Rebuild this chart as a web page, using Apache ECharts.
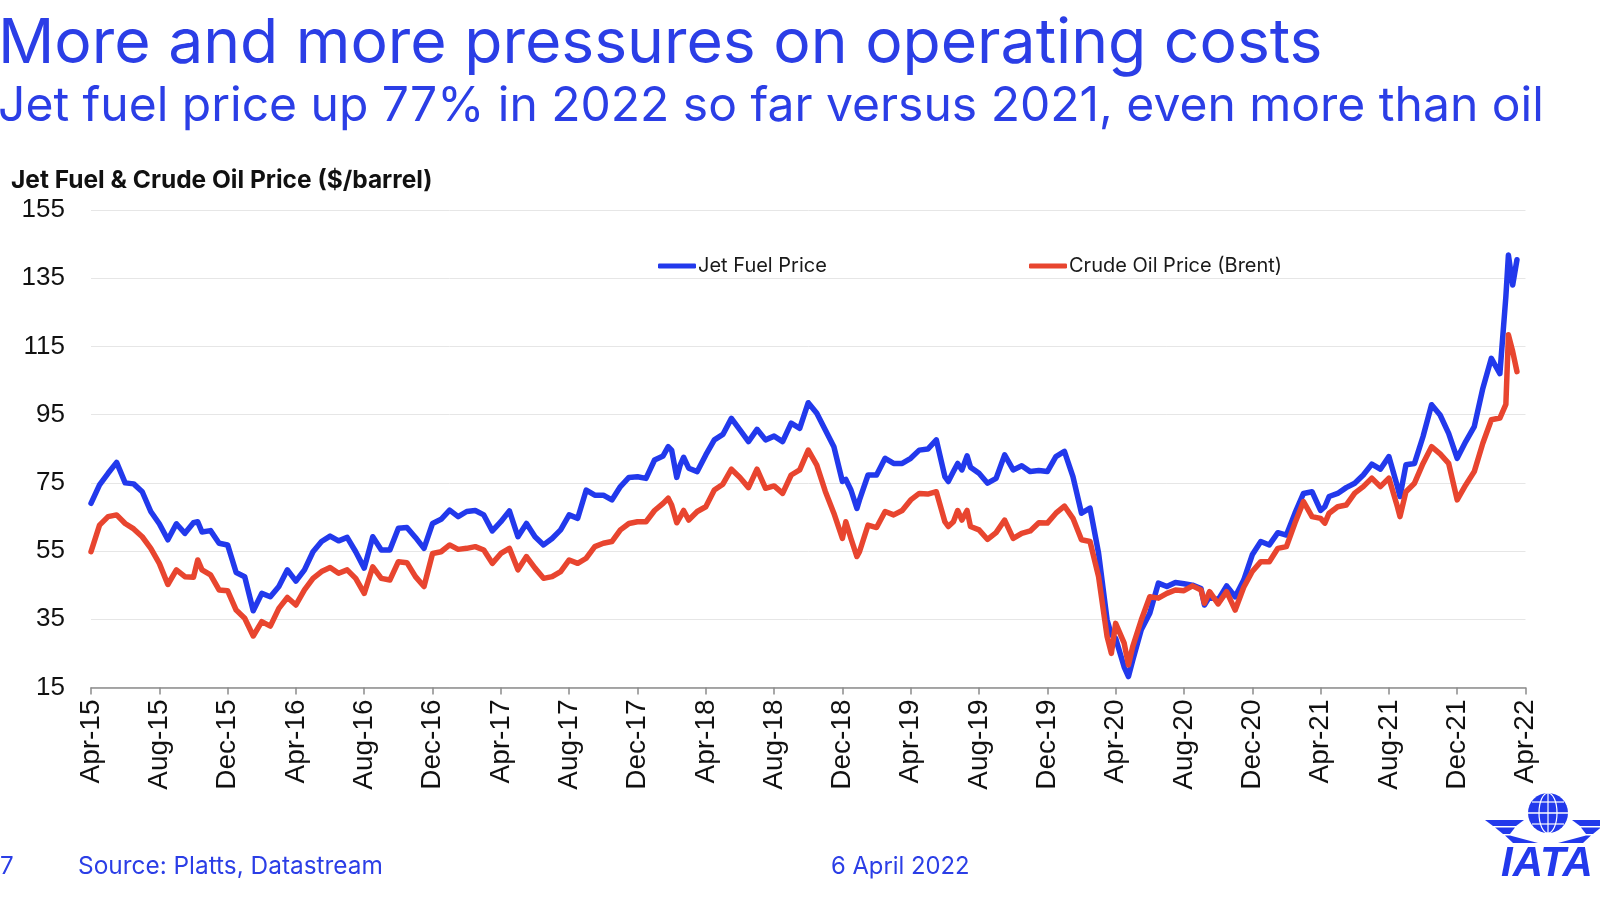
<!DOCTYPE html>
<html>
<head>
<meta charset="utf-8">
<title>Jet Fuel & Crude Oil Price</title>
<script src="https://cdn.jsdelivr.net/npm/echarts@6/dist/echarts.min.js"></script>
<style>
  html, body { margin: 0; padding: 0; background: #fff; }
  #chart { width: 1600px; height: 900px; }
</style>
</head>
<body>
<div id="chart"></div>
<script>
var BLUE = '#2239ec';
var RED = '#e8452f';
var TEXT_BLUE = '#2b3ee6';

var tickLabels = ['Apr-15', 'Aug-15', 'Dec-15', 'Apr-16', 'Aug-16', 'Dec-16', 'Apr-17', 'Aug-17', 'Dec-17',
  'Apr-18', 'Aug-18', 'Dec-18', 'Apr-19', 'Aug-19', 'Dec-19', 'Apr-20', 'Aug-20', 'Dec-20', 'Apr-21',
  'Aug-21', 'Dec-21', 'Apr-22'];

// readings are half a month apart, with a few more around the sharp moves
var extraMonths = [6.25, 33.8, 34.3, 34.7, 44.2, 44.85, 50.2, 50.75, 51.3, 59.75, 60.75, 65.2, 72.25, 76.65, 82.85, 83.25];
var monthsSinceStart = [];
for (var i = 0; i < 168; i++) {
  monthsSinceStart.push(i / 2);
}
monthsSinceStart = monthsSinceStart.concat(extraMonths).sort(function (a, b) { return a - b; });

var jetFuelPrice = [
  69, 74.4, 77.8, 81, 75, 74.7, 72.4, 66.6, 63, 58.3,
  63, 60.2, 63.3, 63.6, 60.6, 61, 57.3, 56.8, 48.7, 47.5, 37.5,
  42.6, 41.6, 44.6, 49.5, 46.2, 49.5, 54.8, 57.8, 59.4, 58,
  59, 54.8, 50, 59.2, 55.3, 55.3, 61.7, 61.9, 59, 55.8,
  63.1, 64.3, 67, 65.1, 66.6, 66.9, 65.6, 60.9, 63.6, 66.8,
  59.2, 63.1, 59.2, 56.8, 58.7, 61.2, 65.6, 64.6, 72.9, 71.4,
  71.4, 70, 73.9, 76.6, 76.8, 76.3, 81.7, 82.9, 85.6, 84.6, 76.6, 80.2, 82.5,
  79.3, 78.3, 83.2, 87.6, 89.2, 93.9, 90.5, 87.1, 90.7, 87.6,
  88.7, 87.1, 92.5, 91, 98.5, 95.4, 90.5, 85.6, 75.4, 76, 72.9, 67.5,
  70, 77.3, 77.3, 82.2, 80.7, 80.7, 82.2, 84.6, 84.9, 87.6,
  76.8, 75.4, 78.3, 80.7, 78.8, 82.9, 79.6, 77.8, 74.9, 76.3, 83.2, 78.8, 80,
  78.3, 78.6, 78.3, 82.7, 84.2, 76.8, 66.1, 67.6, 54.4, 34.8,
  30.4, 29.4, 21, 18.2, 23,
  31.9, 36.8, 45.6, 44.6, 45.8, 45.4, 45,
  44, 39.2, 41.6, 40.7, 44.8, 41.6, 46.5, 53.9, 57.8, 56.8, 60.4,
  59.7, 66.1, 71.9, 72.4, 66.9, 68, 71, 71.9, 73.6, 74.9, 77.3,
  80.5, 79, 82.7, 73.9, 71, 80.3, 80.7, 88.6, 97.9, 94.9, 89.5,
  82.2, 87.1, 91.5, 102.7, 111.5, 107,
  129.6, 141.8, 133, 140.4
];

var crudeOilPrice = [
  54.8, 62.6, 65.1, 65.6, 63.1, 61.5, 59.2, 55.8, 51.4, 45.2,
  49.5, 47.5, 47.3, 52.4, 49.5, 48, 43.6, 43.4, 37.7, 35.3, 30.1,
  34.3, 33, 38.2, 41.4, 39.2, 43.6, 47, 49, 50.2, 48.5,
  49.5, 47, 42.6, 50.4, 47, 46.5, 51.9, 51.6, 47.5, 44.6,
  54.3, 54.8, 56.8, 55.5, 55.8, 56.3, 55.3, 51.4, 54.3, 55.8,
  49.5, 53.4, 50, 47, 47.5, 49, 52.4, 51.4, 52.9, 56.3,
  57.3, 57.8, 61.2, 63.1, 63.6, 63.6, 66.9, 69, 70.5, 68.5, 63.3, 65, 66.9,
  64.1, 66.6, 68, 72.9, 74.6, 79, 76.6, 73.6, 79, 73.4,
  74.1, 71.9, 77.3, 78.8, 84.6, 80.2, 72.5, 66.1, 58.7, 63.6, 58.7, 53.4,
  54.8, 62.6, 61.9, 66.6, 65.6, 66.9, 70, 71.9, 71.7, 72.4,
  63.6, 62.2, 63.6, 66.9, 64.1, 66.9, 62.2, 61.2, 58.4, 60.4, 64.1, 58.7, 60.2,
  60.9, 63.3, 63.2, 66.1, 68.2, 64.6, 58.3, 57.8, 47.5, 29.9,
  25, 33.8, 28, 21.6, 27,
  34.8, 41.6, 41.2, 42.6, 43.6, 43.4, 44.8,
  43.6, 39.7, 43.1, 39.5, 43.1, 37.7, 44.4, 49, 51.9, 51.9, 55.8,
  56.3, 63.2, 69.5, 65.1, 64.6, 63.2, 66.1, 68, 68.5, 72, 73.9,
  76.4, 73.9, 76.4, 68, 65.1, 72.4, 74.9, 80.7, 85.6, 83.5, 80.7,
  70, 74.4, 78.3, 86.6, 93.5, 94,
  98, 118.4, 113.5, 107.6
];

function withMonths(values) {
  return values.map(function (v, idx) { return [monthsSinceStart[idx], v]; });
}

function lineSeries(name, values, color) {
  return {
    name: name,
    type: 'line',
    data: withMonths(values),
    showSymbol: false,
    symbol: 'none',
    lineStyle: { color: color, width: 5.5, join: 'round', cap: 'round' },
    itemStyle: { color: color },
    animation: false
  };
}

function lineLegend(name, left) {
  return {
    data: [{ name: name, icon: 'roundRect' }],
    left: left,
    top: 256,
    itemWidth: 38,
    itemHeight: 5,
    itemGap: 2,
    padding: 0,
    textStyle: { fontFamily: 'Inter', fontSize: 20, color: '#1a1a1a', padding: [0, 0, 0, -3] }
  };
}

// IATA logo, drawn in page pixels
function wing(dir) {
  var cx = 1548;
  function px(d) { return cx + dir * d; }
  return [
    { type: 'polygon', shape: { points: [[px(24), 820], [px(63), 820], [px(55), 826], [px(32), 826]] }, style: { fill: BLUE } },
    { type: 'polygon', shape: { points: [[px(33), 827.5], [px(53), 827.5], [px(45), 834], [px(38), 834]] }, style: { fill: BLUE } },
    { type: 'polygon', shape: { points: [[px(38), 835.5], [px(43), 835.5], [px(35), 843], [px(10), 843]] }, style: { fill: BLUE } }
  ];
}

var logo = [
  { type: 'circle', shape: { cx: 1548, cy: 813, r: 20 }, style: { fill: BLUE } },
  { type: 'ellipse', shape: { cx: 1548, cy: 813, rx: 9, ry: 20 }, style: { fill: 'none', stroke: '#fff', lineWidth: 1.2 } },
  { type: 'line', shape: { x1: 1548, y1: 793, x2: 1548, y2: 833 }, style: { stroke: '#fff', lineWidth: 1.2 } },
  { type: 'line', shape: { x1: 1528, y1: 813, x2: 1568, y2: 813 }, style: { stroke: '#fff', lineWidth: 1.5 } },
  { type: 'line', shape: { x1: 1532, y1: 802, x2: 1564, y2: 802 }, style: { stroke: '#fff', lineWidth: 1.2 } },
  { type: 'line', shape: { x1: 1532, y1: 824, x2: 1564, y2: 824 }, style: { stroke: '#fff', lineWidth: 1.2 } },
  { type: 'text', style: { text: 'IATA', x: 1501, y: 843, fill: BLUE, font: 'italic 900 42px "Liberation Sans"' } }
].concat(wing(1), wing(-1));

var chart = echarts.init(document.getElementById('chart'), null, { renderer: 'canvas' });

chart.setOption({
  backgroundColor: '#fff',
  animation: false,
  title: [
    { text: 'More and more pressures on operating costs', left: -2, top: 13, padding: 0,
      textStyle: { fontFamily: 'Inter', fontWeight: 400, fontSize: 62.4, color: TEXT_BLUE } },
    { text: 'Jet fuel price up 77% in 2022 so far versus 2021, even more than oil', left: -2, top: 83, padding: 0,
      textStyle: { fontFamily: 'Inter', fontWeight: 400, fontSize: 48, color: TEXT_BLUE } },
    { text: 'Jet Fuel & Crude Oil Price ($/barrel)', left: 11, top: 168, padding: 0,
      textStyle: { fontFamily: 'Inter', fontWeight: 700, fontSize: 24.5, color: '#111' } },
    { text: '7', left: 0, top: 855, padding: 0,
      textStyle: { fontFamily: 'Inter', fontWeight: 400, fontSize: 24.2, color: TEXT_BLUE } },
    { text: 'Source: Platts, Datastream', left: 78, top: 855, padding: 0,
      textStyle: { fontFamily: 'Inter', fontWeight: 400, fontSize: 24.4, color: TEXT_BLUE } },
    { text: '6 April 2022', left: 831, top: 855, padding: 0,
      textStyle: { fontFamily: 'Inter', fontWeight: 400, fontSize: 23.8, color: TEXT_BLUE } }
  ],
  legend: [lineLegend('Jet Fuel Price', 658), lineLegend('Crude Oil Price (Brent)', 1029)],
  grid: { left: 91, right: 74.5, top: 210, bottom: 212.5 },
  xAxis: {
    type: 'value',
    min: 0,
    max: 84,
    interval: 4,
    splitLine: { show: false },
    axisLine: { show: true, lineStyle: { color: '#8c8c8c', width: 1.5 } },
    axisTick: { show: true, length: 7, lineStyle: { color: '#8c8c8c', width: 1.5 } },
    axisLabel: {
      rotate: 90,
      margin: 12,
      fontFamily: 'Liberation Sans',
      fontSize: 28,
      color: '#111',
      formatter: function (v) { return tickLabels[v / 4]; }
    }
  },
  yAxis: {
    type: 'value',
    min: 15,
    max: 155,
    interval: 20,
    axisLine: { show: false },
    axisTick: { show: false },
    splitLine: { lineStyle: { color: '#e6e6e6', width: 1 } },
    axisLabel: { margin: 26, fontFamily: 'Liberation Sans', fontSize: 26, color: '#111' }
  },
  series: [
    lineSeries('Jet Fuel Price', jetFuelPrice, BLUE),
    lineSeries('Crude Oil Price (Brent)', crudeOilPrice, RED)
  ],
  graphic: logo
});
</script>
</body>
</html>
